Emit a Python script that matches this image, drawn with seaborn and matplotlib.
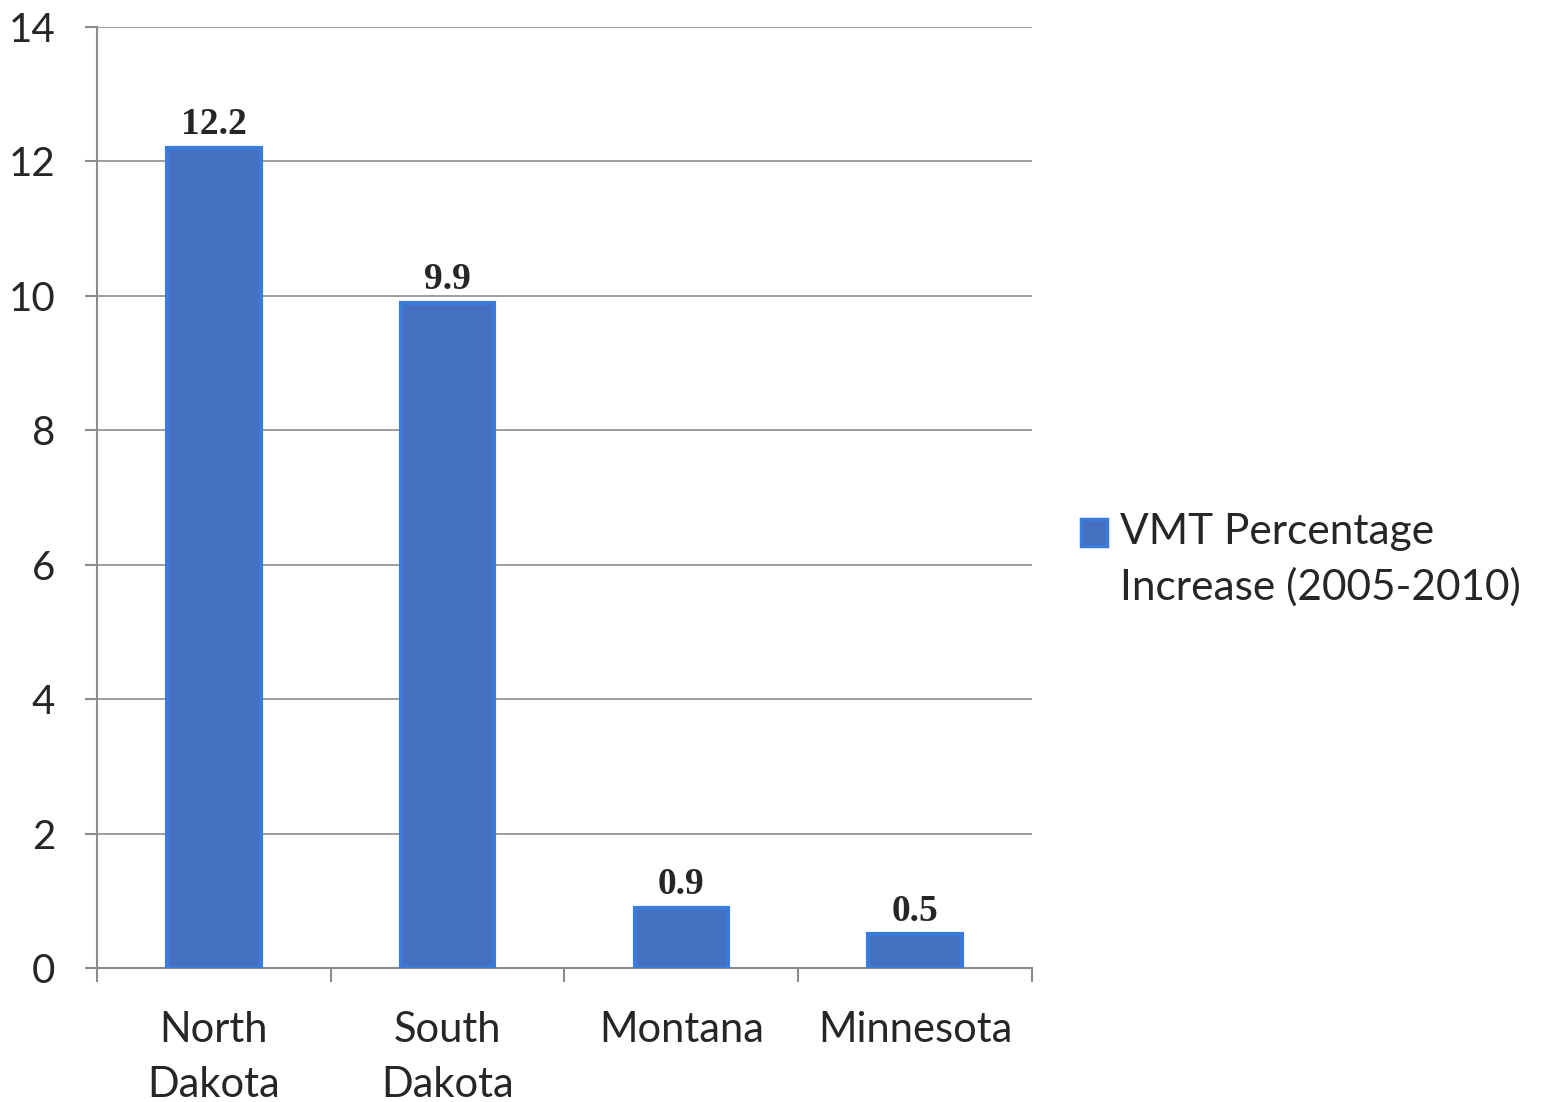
import matplotlib
matplotlib.use("Agg")
import matplotlib.pyplot as plt
import seaborn as sns
import pandas as pd
from matplotlib.patches import Patch, Rectangle
from matplotlib.legend_handler import HandlerPatch

states = ["North\nDakota", "South\nDakota", "Montana", "Minnesota"]
values = [12.2, 9.9, 0.9, 0.5]
series_name = "VMT Percentage\nIncrease (2005-2010)"
yticks = [0, 2, 4, 6, 8, 10, 12, 14]

sns.set_style("white")
plt.rcParams['font.family'] = ['Lato', 'DejaVu Sans']

df = pd.DataFrame({"state": states, "value": values})

fig = plt.figure(figsize=(15.46, 11.02), dpi=100)
ax = fig.add_axes([0.0627, 0.1216, 0.6048, 0.8539])

face = "#4570C2"
edge = "#3A7BDB"
sns.barplot(data=df, x="state", y="value", ax=ax, color=face,
            width=0.40, saturation=1, edgecolor=edge, linewidth=3, zorder=3)

ax.set_ylim(0, 14)
ax.set_xlim(-0.5, len(states) - 0.5)
ax.set_yticks(yticks)
ax.set_yticklabels([str(t) for t in yticks])
ax.yaxis.grid(True, color="#8C8C8C", linewidth=1.2, zorder=0)
ax.set_axisbelow(True)
ax.set_xlabel("")
ax.set_ylabel("")

for s in ["top", "right"]:
    ax.spines[s].set_visible(False)
for s in ["left", "bottom"]:
    ax.spines[s].set_color("#8C8C8C")
    ax.spines[s].set_linewidth(1.5)

ax.tick_params(axis="y", which="major", length=9, width=1.5, color="#8C8C8C",
               labelsize=29, pad=21, direction="out", left=True)
ax.tick_params(axis="x", which="major", length=0, labelsize=30, pad=31)
ax.set_xticks([i - 0.5 for i in range(len(states) + 1)], minor=True)
ax.tick_params(axis="x", which="minor", length=10, width=1.5, color="#8C8C8C",
               direction="out", bottom=True)
for lbl in ax.get_xticklabels():
    lbl.set_linespacing(1.55)
    lbl.set_verticalalignment("top")

for cont in ax.containers:
    ax.bar_label(cont, labels=[f"{v:.1f}" for v in values], padding=4,
                 fontsize=27, fontweight="bold", family="Liberation Serif")


def top_box(legend, orig_handle, xdescent, ydescent, width, height, fontsize):
    return Rectangle((-xdescent, -ydescent + 20), width, height)


handle = Patch(facecolor=face, edgecolor=edge, linewidth=2.5)
fig.legend([handle], [series_name], loc="center left", bbox_to_anchor=(0.699, 0.492),
           frameon=False, fontsize=30.5, handlelength=0.62, handleheight=0.62,
           handletextpad=0.3, borderpad=0, borderaxespad=0, alignment="left",
           handler_map={Patch: HandlerPatch(patch_func=top_box)})
for t in fig.legends[0].get_texts():
    t.set_linespacing(1.5)

fig.savefig("out.png", dpi=100)
